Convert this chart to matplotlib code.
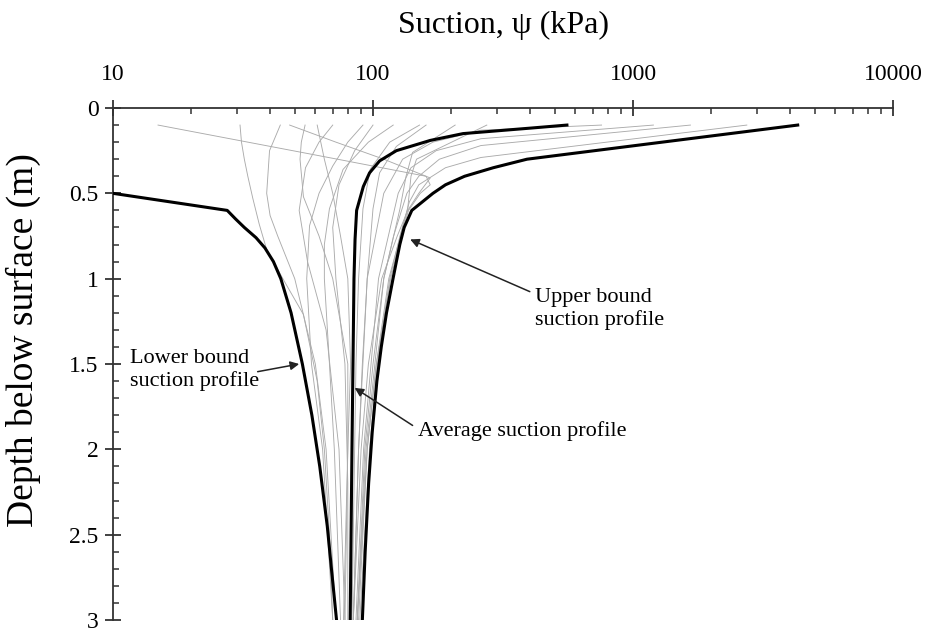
import matplotlib
matplotlib.use('Agg')
import matplotlib.pyplot as plt
from matplotlib.ticker import LogLocator, MultipleLocator, FixedLocator

plt.rcParams['font.family'] = ['Liberation Serif', 'DejaVu Serif']

# bounding / average profiles (depth m, suction kPa)
upper_depth = [0.1, 0.3, 0.35, 0.4, 0.45, 0.5, 0.6, 0.7, 0.8, 0.9, 1.0, 1.2, 1.4, 1.6, 1.9, 2.2, 2.6, 3.0]
upper_suction = [4300, 391, 290, 225, 190, 170, 141, 131.8, 126.8, 123, 119.4, 112.7, 107.6, 103.5,
                 99.3, 96.2, 93.3, 91]

lower_depth = [0.5, 0.6, 0.65, 0.7, 0.76, 0.82, 0.9, 1.0, 1.2, 1.5, 1.8, 2.1, 2.45, 2.7, 3.0]
lower_suction = [10, 27.5, 29.6, 32, 35.5, 38.4, 41.4, 44.2, 48.4, 53.5, 58.2, 62.4, 66.7, 69.2, 72.4]

avg_depth = [0.1, 0.118, 0.15, 0.19, 0.25, 0.31, 0.38, 0.46, 0.6, 0.77, 1.0, 2.0, 3.0]
avg_suction = [557, 402, 222, 166, 123, 106, 97, 91.8, 86.5, 85.3, 84.5, 83, 81.7]

# individual site profiles (thin grey)
site_depths = [
    [0.1, 0.2, 0.3, 0.4, 0.45, 0.5, 0.6, 0.75, 1.0, 1.5, 2.0, 3.0],
    [0.1, 0.2, 0.3, 0.41, 0.5, 0.6, 0.75, 1.0, 1.5, 2.0, 3.0],
    [0.1, 0.2, 0.3, 0.4, 0.53, 0.68, 0.83, 1.0, 1.21, 1.6, 2.0, 2.5, 3.0],
    [0.1, 0.25, 0.5, 0.63, 0.75, 1.0, 1.5, 2.0, 3.0],
    [0.1, 0.2, 0.3, 0.52, 0.75, 1.0, 1.5, 2.0, 3.0],
    [0.1, 0.3, 0.5, 0.75, 1.0, 1.5, 2.0, 3.0],
    [0.1, 0.2, 0.34, 0.5, 0.69, 1.0, 1.5, 2.0, 3.0],
    [0.1, 0.2, 0.36, 0.59, 0.8, 1.0, 1.5, 2.0, 3.0],
    [0.1, 0.2, 0.36, 0.59, 1.0, 1.5, 2.0, 3.0],
    [0.1, 0.225, 0.38, 0.59, 1.0, 1.5, 2.0, 3.0],
    [0.1, 0.26, 0.4, 0.59, 1.0, 1.5, 2.0, 3.0],
    [0.1, 0.3, 0.4, 0.59, 1.0, 1.5, 2.0, 3.0],
    [0.1, 0.13, 0.2, 0.3, 0.5, 1.0, 2.0, 3.0],
    [0.1, 0.18, 0.25, 0.35, 0.5, 1.0, 2.0, 3.0],
    [0.1, 0.22, 0.3, 0.4, 0.5, 0.75, 1.0, 2.0, 3.0],
    [0.1, 0.29, 0.35, 0.45, 0.55, 0.75, 1.0, 1.5, 2.0, 3.0],
    [0.1, 0.2, 0.35, 0.6, 0.9, 1.3, 2.0, 3.0],
    [0.1, 0.25, 0.45, 0.7, 1.0, 1.5, 2.2, 3.0],
]
site_suction = [
    [14.9, 33, 73, 160, 166, 152, 137, 128, 117, 103, 95, 87],
    [47.8, 72, 110, 166, 150, 136, 124, 108, 96, 90, 84],
    [30.8, 31.2, 32, 33, 34.5, 36.5, 39, 45, 54, 61, 65, 68, 70],
    [44, 40, 39, 40.2, 43, 50, 60, 66, 72],
    [54.8, 53, 52.4, 54, 62, 70, 80, 80, 78],
    [61, 65, 70, 75, 80, 82, 80, 77],
    [91.5, 80, 70, 62, 57, 55.6, 58, 64, 70],
    [119.6, 96, 76.7, 68, 65, 65, 68, 71, 75],
    [151, 116, 97.5, 91.5, 88, 86, 85, 83],
    [160, 123, 106, 100, 95, 91, 88, 84],
    [207, 142, 134, 127, 110, 100, 93, 87],
    [274, 147, 140, 136, 115, 103, 95, 88],
    [757, 260, 170, 130, 110, 95, 88, 84],
    [1198, 260, 175, 140, 125, 105, 92, 86],
    [1663, 260, 180, 150, 135, 120, 110, 94, 87],
    [2740, 260, 190, 150, 138, 127, 116, 104, 97, 89],
    [70, 62, 55, 52, 56, 66, 74, 78],
    [100, 85, 74, 70, 72, 78, 80, 80],
]

x_ticks = [10, 100, 1000, 10000]
y_ticks = [0, 0.5, 1, 1.5, 2, 2.5, 3]
y_labels = ['0', '0.5', '1', '1.5', '2', '2.5', '3']

fig = plt.figure(figsize=(9.3, 6.34), dpi=100)
ax = fig.add_axes([113 / 930, 1 - 620 / 634, 780 / 930, 512 / 634])

for d, s in zip(site_depths, site_suction):
    ax.plot(s, d, color='#ababab', lw=0.65, zorder=1)

ax.plot(upper_suction, upper_depth, color='black', lw=2.2, zorder=3)
ax.plot(lower_suction, lower_depth, color='black', lw=2.2, zorder=3)
ax.plot(avg_suction, avg_depth, color='black', lw=2.2, zorder=3)

ax.set_xscale('log')
ax.set_xlim(10, 10000)
ax.set_ylim(3, 0)
ax.xaxis.set_major_locator(FixedLocator(x_ticks))
ax.xaxis.set_minor_locator(LogLocator(base=10, subs=range(2, 10)))
ax.set_xticklabels([str(t) for t in x_ticks])
ax.yaxis.set_major_locator(FixedLocator(y_ticks))
ax.yaxis.set_minor_locator(MultipleLocator(0.1))
ax.set_yticklabels(y_labels)

ax.xaxis.tick_top()
ax.spines['right'].set_visible(False)
ax.spines['bottom'].set_visible(False)
for sp in ('left', 'top'):
    ax.spines[sp].set_linewidth(1.3)
    ax.spines[sp].set_color('#333333')

ax.tick_params(axis='x', which='major', direction='inout', length=11, width=1.3,
               labelsize=17, pad=11, color='#333333')
ax.tick_params(axis='x', which='minor', direction='in', length=4, width=1.1, color='#333333')
ax.tick_params(axis='y', which='major', direction='inout', length=11, width=1.3,
               labelsize=17, pad=5, color='#333333')
ax.tick_params(axis='y', which='minor', direction='in', length=4.5, width=1.1, color='#333333')

fig.text(503 / 930, 1 - 25 / 634, 'Suction, \u03c8 (kPa)', ha='center', va='center', fontsize=23)
fig.text(23 / 930, 1 - 340 / 634, 'Depth below surface (m)', ha='center', va='center',
         rotation=90, fontsize=27)

arrow = dict(arrowstyle='-|>', color='#222222', lw=1.1, mutation_scale=13,
             shrinkA=0, shrinkB=0)

ax.text(11.6, 1.535, 'Lower bound\nsuction profile', ha='left', va='center', fontsize=16)
ax.annotate('', xy=(52, 1.5), xytext=(36, 1.545), arrowprops=arrow)

ax.annotate('', xy=(139, 0.77), xytext=(401, 1.076), arrowprops=arrow)
ax.text(420, 1.18, 'Upper bound\nsuction profile', ha='left', va='center', fontsize=16)

ax.annotate('', xy=(85, 1.64), xytext=(142, 1.86), arrowprops=arrow)
ax.text(149, 1.89, 'Average suction profile', ha='left', va='center', fontsize=16)

plt.savefig('out.png', dpi=100)
